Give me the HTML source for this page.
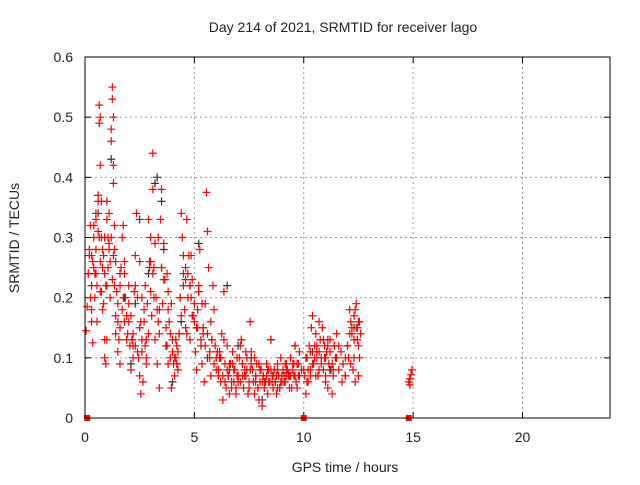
<!DOCTYPE html>
<html><head><meta charset="utf-8"><style>
body{margin:0;background:#fff;width:640px;height:480px;overflow:hidden}
svg text{font-family:"Liberation Sans",sans-serif;font-size:14px;fill:#222}
</style></head><body>
<svg id="chart" width="640" height="480" xmlns="http://www.w3.org/2000/svg">
<text x="343" y="32" text-anchor="middle">Day 214 of 2021, SRMTID for receiver lago</text>
<text x="345" y="472" text-anchor="middle">GPS time / hours</text>
<text x="19" y="238" text-anchor="middle" transform="rotate(-90 19 238)">SRMTID / TECUs</text>
<g id="grid"></g>
<g id="ticks"></g>
<g id="black"></g>
<g id="red"></g>
<rect x="85" y="57" width="525" height="361" fill="none" stroke="#000" stroke-width="1"/>
</svg>
<script>
const xTicks=[0,5,10,15,20];
const yTicks=[0,0.1,0.2,0.3,0.4,0.5,0.6];
const yTickLabels=["0","0.1","0.2","0.3","0.4","0.5","0.6"];
const redHours=[0.05,0.1,0.15,0.2,0.25,0.3,0.3,0.35,0.4,0.4,0.45,0.5,0.5,0.55,0.6,0.6,0.65,0.65,0.7,0.7,0.75,0.75,0.8,0.8,0.85,0.85,0.9,0.9,0.95,1.0,1.0,1.05,1.05,1.1,1.1,1.15,1.2,1.2,1.25,1.25,1.3,1.3,1.3,1.35,1.35,1.4,1.4,1.45,1.5,1.5,1.55,1.6,1.6,1.65,1.7,1.75,1.8,1.85,1.9,1.95,2.0,2.0,2.05,2.1,2.15,2.2,2.25,2.3,2.35,2.4,2.45,2.5,2.5,2.55,2.6,2.65,2.7,2.75,2.8,2.85,2.9,2.95,3.0,3.0,3.05,3.1,3.1,3.15,3.2,3.25,3.3,3.35,3.4,3.45,3.5,3.5,3.55,3.6,3.65,3.7,3.75,3.8,3.85,3.9,3.95,4.0,4.05,4.1,4.15,4.2,4.25,4.3,4.35,4.4,4.45,4.5,4.5,4.55,4.6,4.65,4.7,4.75,4.8,4.85,4.9,4.95,5.0,5.05,5.1,5.15,5.2,5.25,5.3,5.35,5.4,5.45,5.5,5.55,5.6,5.65,5.7,5.75,5.8,5.85,5.9,5.95,6.0,6.05,6.1,6.15,6.2,6.25,6.3,6.35,6.4,6.45,6.5,6.55,6.6,6.65,6.7,6.75,6.8,6.85,6.9,6.95,7.0,7.05,7.1,7.15,7.2,7.25,7.3,7.35,7.4,7.45,7.5,7.55,7.6,7.65,7.7,7.75,7.8,7.85,7.9,7.95,8.0,8.05,8.1,8.15,8.2,8.25,8.3,8.35,8.4,8.45,8.5,8.55,8.6,8.65,8.7,8.75,8.8,8.85,8.9,8.95,9.0,9.05,9.1,9.15,9.2,9.25,9.3,9.35,9.4,9.45,9.5,9.55,9.6,9.65,9.7,9.75,9.8,10.0,10.05,10.1,10.15,10.2,10.25,10.3,10.35,10.4,10.45,10.5,10.55,10.6,10.65,10.7,10.75,10.8,10.85,10.9,10.95,11.0,11.05,11.1,11.15,11.2,11.25,11.3,11.35,11.4,11.45,11.5,11.55,11.6,11.65,11.7,11.75,11.8,11.85,11.9,11.95];
const redValues=[0.145,0.185,0.24,0.27,0.32,0.22,0.16,0.125,0.3,0.25,0.2,0.34,0.28,0.16,0.36,0.37,0.52,0.49,0.5,0.42,0.3,0.21,0.18,0.25,0.19,0.27,0.13,0.1,0.09,0.36,0.33,0.25,0.3,0.34,0.28,0.26,0.48,0.46,0.55,0.53,0.5,0.42,0.39,0.28,0.22,0.17,0.14,0.21,0.19,0.11,0.13,0.09,0.15,0.25,0.3,0.32,0.26,0.2,0.17,0.14,0.16,0.22,0.12,0.08,0.13,0.1,0.21,0.27,0.34,0.2,0.1,0.07,0.15,0.04,0.11,0.06,0.18,0.12,0.09,0.19,0.33,0.25,0.3,0.21,0.17,0.44,0.38,0.25,0.13,0.2,0.09,0.16,0.05,0.33,0.25,0.38,0.19,0.29,0.23,0.15,0.12,0.09,0.16,0.1,0.05,0.13,0.09,0.07,0.1,0.12,0.08,0.14,0.2,0.34,0.3,0.22,0.27,0.18,0.23,0.33,0.24,0.27,0.13,0.2,0.23,0.17,0.16,0.11,0.08,0.15,0.21,0.28,0.12,0.09,0.14,0.06,0.19,0.375,0.31,0.25,0.1,0.07,0.13,0.22,0.18,0.12,0.08,0.11,0.07,0.1,0.06,0.14,0.03,0.21,0.09,0.05,0.12,0.07,0.04,0.09,0.05,0.11,0.06,0.08,0.04,0.07,0.06,0.1,0.12,0.13,0.09,0.05,0.08,0.07,0.1,0.04,0.06,0.16,0.11,0.08,0.06,0.04,0.07,0.09,0.05,0.03,0.06,0.08,0.02,0.07,0.05,0.06,0.09,0.04,0.08,0.06,0.13,0.07,0.05,0.08,0.06,0.04,0.09,0.07,0.05,0.1,0.06,0.08,0.07,0.09,0.07,0.08,0.075,0.07,0.1,0.05,0.09,0.07,0.12,0.06,0.05,0.09,0.11,0.08,0.07,0.04,0.1,0.06,0.12,0.08,0.15,0.17,0.09,0.12,0.14,0.11,0.07,0.16,0.13,0.1,0.15,0.08,0.12,0.06,0.11,0.05,0.09,0.13,0.08,0.04,0.07,0.12,0.1];
const redTail=[[12.0,0.12],[12.05,0.1],[12.1,0.18],[12.15,0.16],[12.2,0.14],[12.25,0.08],[12.3,0.13],[12.35,0.18],[12.4,0.19],[12.45,0.15],[12.5,0.12],[12.55,0.16],[12.6,0.14],[12.35,0.06],[12.5,0.07],[12.55,0.1],[14.8,0.06],[14.85,0.065],[14.9,0.072],[14.95,0.08],[14.85,0.055]];
const redExtra=[[0.3,0.18],[0.7,0.26],[1.0,0.13],[1.6,0.24],[2.2,0.12],[2.8,0.13],[3.4,0.18],[4.2,0.09],[4.8,0.22],[5.4,0.15],[6.2,0.1],[7.2,0.07],[8.2,0.06],[9.2,0.09],[11.0,0.07],[0.5,0.24],[0.9,0.3],[1.3,0.27],[2.6,0.2],[3.8,0.21],[4.6,0.15],[5.2,0.22],[6.6,0.08],[7.8,0.06],[8.8,0.05],[9.6,0.12],[10.6,0.1],[11.6,0.12]];
const redEarly=[[0.2,0.28],[0.25,0.2],[0.35,0.26],[0.45,0.24],[0.55,0.22],[0.6,0.31],[0.7,0.21],[0.8,0.28],[0.9,0.24],[1.0,0.22],[1.1,0.29],[1.15,0.2],[1.25,0.23],[1.4,0.26],[1.5,0.16],[1.6,0.22],[1.7,0.18],[1.8,0.24],[1.9,0.13],[2.0,0.19],[0.3,0.27],[0.5,0.33],[0.75,0.36],[1.2,0.3],[1.8,0.16],[2.3,0.12],[0.15,0.24],[0.4,0.32],[0.65,0.3],[0.95,0.22],[1.35,0.32],[1.75,0.2],[2.15,0.13],[2.55,0.16],[2.95,0.26]];
const redMid=[[2.1,0.17],[2.2,0.14],[2.3,0.22],[2.4,0.11],[2.5,0.26],[2.6,0.13],[2.7,0.16],[2.8,0.1],[2.9,0.14],[3.0,0.26],[3.1,0.24],[3.2,0.29],[3.3,0.18],[3.4,0.14],[3.5,0.25],[3.6,0.23],[3.7,0.12],[3.8,0.18],[3.9,0.14],[4.0,0.11],[4.1,0.1],[4.15,0.13],[4.2,0.09],[4.25,0.11],[4.3,0.14],[4.4,0.17],[4.5,0.24],[4.6,0.25],[4.7,0.2],[4.8,0.22],[4.9,0.17],[5.0,0.19],[5.1,0.15],[5.2,0.21],[5.3,0.13],[5.4,0.15],[5.5,0.12],[5.6,0.14],[5.7,0.11],[5.8,0.13],[5.9,0.09],[6.0,0.1],[3.35,0.3],[3.75,0.24],[4.35,0.2],[4.85,0.27],[5.35,0.19],[5.75,0.16],[6.15,0.11],[2.75,0.22],[3.15,0.2],[3.95,0.19],[4.65,0.14],[5.15,0.18]];
const redLow=[[6.1,0.08],[6.2,0.1],[6.3,0.07],[6.4,0.06],[6.5,0.08],[6.6,0.09],[6.7,0.06],[6.8,0.08],[6.9,0.05],[7.0,0.07],[7.1,0.06],[7.2,0.09],[7.3,0.07],[7.4,0.08],[7.5,0.05],[7.6,0.09],[7.7,0.06],[7.8,0.07],[7.9,0.05],[8.0,0.08],[8.1,0.06],[8.2,0.05],[8.3,0.07],[8.4,0.06],[8.5,0.08],[8.6,0.07],[8.7,0.06],[8.8,0.08],[8.9,0.05],[9.0,0.07],[9.1,0.06],[9.2,0.08],[9.3,0.07],[9.4,0.07],[9.5,0.08],[9.6,0.07],[9.7,0.09],[9.8,0.07],[9.9,0.08],[6.55,0.07],[6.95,0.1],[7.35,0.11],[7.75,0.1],[8.15,0.07],[8.55,0.06],[8.95,0.06],[9.35,0.05],[9.75,0.07],[6.35,0.13],[6.75,0.09],[7.15,0.13],[7.55,0.08],[7.95,0.09],[8.35,0.08],[8.75,0.07],[9.15,0.06],[9.55,0.09]];
const redLate=[[10.1,0.1],[10.2,0.08],[10.3,0.11],[10.4,0.09],[10.5,0.1],[10.6,0.12],[10.7,0.11],[10.8,0.09],[10.9,0.13],[11.0,0.1],[11.1,0.12],[11.2,0.11],[11.3,0.09],[11.4,0.12],[11.5,0.1],[11.6,0.08],[11.7,0.11],[11.8,0.09],[11.9,0.1],[12.0,0.12],[12.1,0.14],[12.2,0.15],[12.3,0.17],[12.4,0.15],[12.5,0.16],[10.15,0.06],[10.55,0.07],[10.95,0.1],[11.35,0.08],[11.75,0.06],[12.15,0.09],[12.45,0.13],[10.3,0.07],[10.7,0.08],[11.1,0.13],[11.5,0.14],[11.9,0.07],[12.3,0.1]];
const blackHours=[0.6,1.2,1.8,2.1,2.5,2.9,3.2,3.3,3.6,4.0,4.4,5.2,5.6,6.1,6.5,7.0,7.6,8.1,8.5,9.1,9.7,10.4,11.2,11.9,12.3,0.9,2.3,3.5];
const blackValues=[0.34,0.43,0.2,0.09,0.33,0.24,0.39,0.4,0.28,0.06,0.16,0.29,0.1,0.08,0.22,0.12,0.1,0.03,0.13,0.06,0.09,0.11,0.08,0.07,0.15,0.3,0.19,0.36];
const zeroHours=[0.1,10.0,14.8];

const svg=document.getElementById('chart');
const NS='http://www.w3.org/2000/svg';
const X0=85,X1=610,Y0=418,Y1=57;
function sx(h){return X0+h/24*(X1-X0);}
function sy(v){return Y0-v/0.6*(Y0-Y1);}
function mk(tag,attrs,parent){const e=document.createElementNS(NS,tag);for(const k in attrs)e.setAttribute(k,attrs[k]);parent.appendChild(e);return e;}
const grid=document.getElementById('grid'),ticks=document.getElementById('ticks');
xTicks.forEach(t=>{
  const x=sx(t);
  if(t>0){const g=mk('line',{x1:x,x2:x,y1:Y1,y2:Y0,stroke:'#999','stroke-dasharray':'2,3'},grid);
  
  }
  mk('line',{x1:x,x2:x,y1:Y0,y2:Y0-6,stroke:'#000'},ticks);
  mk('line',{x1:x,x2:x,y1:Y1,y2:Y1+6,stroke:'#000'},ticks);
  const tx=mk('text',{x:x,y:Y0+24,'text-anchor':'middle'},ticks);tx.textContent=t;
  
  
});
yTicks.forEach((t,i)=>{
  const y=sy(t);
  if(t>0&&t<0.6){const g=mk('line',{x1:X0,x2:X1,y1:y,y2:y,stroke:'#999','stroke-dasharray':'2,3'},grid);
  
  }
  mk('line',{x1:X0,x2:X0+6,y1:y,y2:y,stroke:'#000'},ticks);
  mk('line',{x1:X1,x2:X1-6,y1:y,y2:y,stroke:'#000'},ticks);
  const tx=mk('text',{x:X0-12,y:y+5,'text-anchor':'end'},ticks);tx.textContent=yTickLabels[i];
  
  
});
function plus(h,v,col,parent,name){
  const x=sx(h),y=sy(v);
  const p=mk('path',{d:`M${x-4} ${y}H${x+4}M${x} ${y-4}V${y+4}`,stroke:col,'stroke-width':1.2},parent);
  
  
}
const bg=document.getElementById('black'),rg=document.getElementById('red');
blackHours.forEach((h,i)=>plus(h,blackValues[i],'#333',bg,'black-point'));
const nMain=Math.min(redHours.length,redValues.length);
for(let i=0;i<nMain;i++)plus(redHours[i],redValues[i],'#f00',rg,'red-point');
[redTail,redExtra,redEarly,redMid,redLow,redLate].forEach(seg=>seg.forEach(p=>plus(p[0],p[1],'#f00',rg,'red-point')));
zeroHours.forEach(h=>{
  const r=mk('rect',{x:sx(h)-3,y:Y0-3,width:6,height:6,fill:'#f00'},rg);
  
  
});
</script>
</body></html>
